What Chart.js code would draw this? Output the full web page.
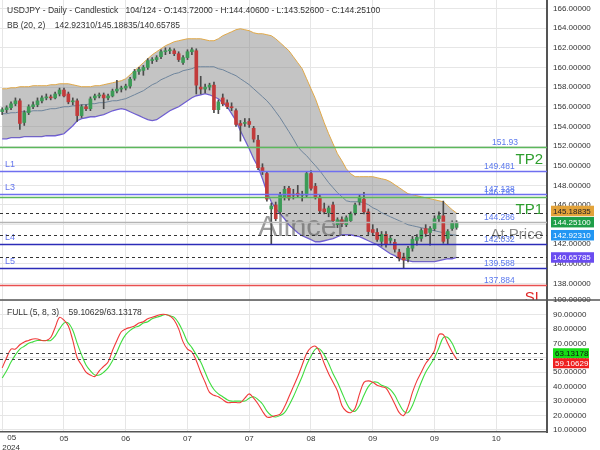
<!DOCTYPE html>
<html>
<head>
<meta charset="utf-8">
<script src="https://cdn.jsdelivr.net/npm/chart.js@4.4.1/dist/chart.umd.min.js"></script>
<style>
  html, body { margin: 0; padding: 0; background: #fff; width: 600px; height: 450px; overflow: hidden; }
  #wrap { position: relative; width: 600px; height: 450px; }
  canvas { position: absolute; left: 0; }
  #c1 { top: 0; z-index: 1; }
  #c2 { top: 290px; z-index: 2; }
  .hdr { position: absolute; z-index: 5; font-family: 'Liberation Sans', Arial, sans-serif; font-size: 8.5px; color: #333; white-space: pre; line-height: 10px; }
</style>
</head>
<body>
<div id="wrap">
  <canvas id="c1" width="600" height="300"></canvas>
  <canvas id="c2" width="600" height="160"></canvas>
  <div class="hdr" style="left:7px; top:5px;">USDJPY - Daily - Candlestick   104/124 - O:143.72000 - H:144.40600 - L:143.52600 - C:144.25100</div>
  <div class="hdr" style="left:7px; top:20px;">BB (20, 2)    142.92310/145.18835/140.65785</div>
  <div class="hdr" style="left:7px; top:307px;">FULL (5, 8, 3)    59.10629/63.13178</div>
</div>
<script>
// ---------------- DATA ----------------
const slotCount = 124;
const xTickIndex = [0, 14, 28, 42, 56, 70, 84, 98, 112];
const xTickLabels = ['05', '05', '06', '07', '07', '08', '09', '09', '10'];
const xYearLabel = '2024';

const open = [155.5,155.7,155.9,156.3,156.6,154.4,155.4,156.0,156.2,156.6,156.9,157.0,156.9,157.3,157.7,157.3,156.5,156.6,155.1,156.0,
155.8,156.9,157.1,157.2,156.9,157.1,157.6,157.8,157.9,158.1,158.9,159.6,159.7,160.0,160.7,160.8,161.1,161.6,161.7,161.7,
161.4,160.5,161.0,161.6,161.7,158.0,157.8,158.0,158.2,155.7,156.9,156.4,156.0,155.6,154.3,154.3,154.5,153.8,152.6,149.8,
149.2,145.6,146.0,145.3,146.8,147.7,147.1,147.2,147.0,147.0,149.2,147.9,146.8,145.6,145.2,146.0,144.0,144.5,144.0,144.4,
145.2,146.3,146.6,145.3,143.5,143.2,142.3,143.0,142.4,142.2,141.2,140.7,140.5,141.6,142.4,142.6,143.6,143.2,143.6,144.6,
144.9,142.6,143.6,143.72];
const high = [155.9,156.1,156.5,156.9,156.8,155.6,156.2,156.5,156.9,157.1,157.3,157.2,157.5,157.9,157.9,157.5,156.9,156.8,156.2,156.2,
157.0,157.3,157.4,157.4,157.3,157.8,158.7,158.1,158.3,159.0,159.8,160.0,160.2,160.9,161.0,161.2,161.8,162.0,162.0,161.9,
161.6,161.2,161.8,162.0,161.9,159.1,158.3,158.4,158.5,156.7,157.3,156.7,156.4,155.8,154.6,154.8,154.8,154.0,153.1,150.2,
149.4,146.2,146.3,147.3,147.9,147.9,147.6,148.0,147.4,149.4,149.5,148.2,147.0,146.2,145.9,146.3,144.7,144.8,144.9,145.3,
146.2,147.0,147.3,145.6,144.0,143.6,143.3,143.3,142.9,142.5,141.5,141.1,141.8,142.8,143.0,143.6,144.0,143.8,144.9,145.3,
146.4,143.5,144.4,144.406];
const low = [155.2,155.4,155.7,156.1,153.7,154.1,155.2,155.8,156.0,156.4,156.7,156.7,156.8,157.1,157.0,156.3,156.2,154.5,154.9,155.6,
155.6,156.7,156.9,155.8,156.7,157.0,157.4,157.5,157.7,157.9,158.7,159.3,159.2,159.8,160.4,160.6,160.9,161.3,161.4,161.2,
160.6,160.3,160.8,161.3,157.3,157.3,157.4,157.7,155.4,155.3,156.1,155.8,155.6,154.0,152.5,154.0,153.9,152.4,149.6,149.1,
146.4,142.0,144.4,145.1,146.5,146.5,146.6,146.8,146.4,146.8,147.5,146.6,145.2,145.1,144.8,144.2,143.7,143.8,143.8,144.2,
145.0,146.0,145.1,143.0,142.9,142.3,141.8,141.7,142.1,141.2,140.3,139.6,140.2,141.3,141.9,142.3,142.8,141.9,143.4,144.3,
142.1,142.0,143.4,143.526];
const close = [155.7,155.9,156.3,156.6,154.3,155.4,156.0,156.2,156.6,156.9,157.0,156.9,157.3,157.7,157.1,156.5,156.6,155.1,156.0,155.8,
156.8,157.1,157.2,156.9,157.1,157.6,157.8,157.9,158.1,158.8,159.6,159.8,160.0,160.7,160.8,161.0,161.6,161.7,161.8,161.4,
160.8,161.0,161.6,161.8,158.2,157.8,158.0,158.2,155.7,156.5,156.3,156.0,155.9,154.2,154.1,154.4,154.2,152.7,149.8,149.4,
146.6,145.9,144.6,147.0,147.6,146.7,147.0,147.0,147.1,149.2,147.7,146.8,145.4,145.3,145.7,144.4,144.5,144.1,144.7,145.1,
146.0,146.8,145.3,143.3,143.2,142.5,143.0,142.0,142.6,141.5,140.6,140.4,141.6,142.5,142.7,143.4,143.1,143.6,144.6,144.9,
142.3,143.3,144.2,144.251];

const bbUpper = [157.83,157.83,157.93,157.93,158.04,158.04,158.04,158.14,158.14,158.14,158.14,158.24,158.24,158.34,158.34,158.34,158.24,158.14,158.04,158.04,
158.04,158.14,158.14,158.24,158.34,158.44,158.55,158.65,158.85,159.26,159.67,160.07,160.48,160.89,161.29,161.60,161.90,162.21,162.41,162.62,
162.72,162.82,162.92,162.92,162.92,162.92,162.82,162.72,162.72,162.92,163.23,163.43,163.63,163.84,163.94,163.84,163.74,163.53,163.43,163.43,
163.33,163.23,162.92,162.52,162.11,161.70,161.09,160.48,159.87,158.85,157.83,156.82,155.59,154.37,153.25,152.24,151.22,150.50,149.69,149.18,
148.88,148.88,148.88,148.88,148.88,148.77,148.67,148.57,148.37,148.06,147.76,147.45,147.15,147.05,146.94,146.84,146.74,146.64,146.54,146.43,
146.33,145.93,145.52,145.18835];
const bbMid = [155.29,155.29,155.39,155.39,155.49,155.49,155.49,155.59,155.59,155.59,155.70,155.80,155.80,155.90,156.00,156.00,156.10,156.10,156.21,156.21,
156.31,156.31,156.41,156.41,156.51,156.61,156.61,156.72,156.82,157.02,157.22,157.43,157.63,157.94,158.24,158.44,158.75,158.95,159.16,159.36,
159.46,159.67,159.77,159.87,160.07,160.07,160.07,160.07,160.07,159.87,159.77,159.56,159.36,159.16,158.85,158.55,158.24,157.83,157.43,157.02,
156.61,156.10,155.49,154.88,154.17,153.46,152.74,151.93,151.42,151.02,150.50,150.00,149.49,148.88,148.27,147.76,147.25,146.84,146.43,146.33,
146.33,146.33,146.23,146.03,145.72,145.52,145.21,145.01,144.80,144.60,144.40,144.20,143.99,143.89,143.79,143.69,143.59,143.48,143.38,143.28,
143.18,143.08,142.97,142.9231];
const bbLower = [152.74,152.74,152.85,152.85,152.85,152.95,152.95,152.95,152.95,152.95,153.05,153.05,153.05,153.15,153.25,153.66,154.07,154.58,154.78,154.88,
154.98,154.98,155.09,155.19,155.39,155.59,155.70,155.80,155.70,155.49,155.29,155.09,154.88,154.68,154.58,154.68,154.98,155.29,155.59,155.80,
156.00,156.31,156.61,156.92,157.12,157.22,157.33,157.22,157.02,156.82,156.41,156.00,155.29,154.58,153.56,152.64,151.73,150.71,149.90,148.67,
147.35,146.33,145.62,145.11,144.60,143.99,143.59,143.18,142.87,142.67,142.47,142.26,142.26,142.36,142.47,142.57,142.77,142.97,142.97,142.97,
142.87,142.77,142.57,142.36,142.16,141.96,141.65,141.35,141.04,140.84,140.53,140.43,140.33,140.23,140.23,140.23,140.23,140.23,140.23,140.33,
140.43,140.53,140.53,140.65785];

const stochK = [53,60,66,66,69,71,72,73,73,72,72,74,81,88,86,82,72,60,55,50,
48,47,51,54,57,65,72,78,80,81,82,84,85,87,88,89,90,90,89,86,
80,71,66,64,58,50,43,36,34,33,31,29,29,29,29,32,35,32,28,23,
19,19,20,21,26,33,40,47,55,63,67,68,64,56,49,43,37,27,23,22,
25,35,43,44,43,41,40,39,34,28,22,20,26,36,44,50,56,60,65,76,
76,70,64,59.10629];
const stochD = [46,51,57,62,66,68,70,71,72,72,72,72,75,80,84,84,79,70,62,55,
51,48,48,50,53,58,64,71,76,79,81,82,84,85,87,88,89,90,89,88,
84,78,71,67,62,57,50,43,38,35,33,31,30,30,30,30,32,33,31,28,
23,20,19,20,22,27,33,40,47,55,61,66,66,62,56,49,43,36,29,24,
23,27,34,40,43,43,41,40,38,34,28,23,22,27,35,43,50,55,60,67,
74,74,70,63.13178];

const levelValues = [151.93, 149.481, 147.138, 146.793, 144.286, 142.032, 139.588, 137.884];
const levelTexts  = ['151.93', '149.481', '147.138', '146.793', '144.286', '142.032', '139.588', '137.884'];
const levelNames  = ['TP2', 'L1', 'L3', 'TP1', 'At Price', 'L4', 'L5', 'SL'];

// ---------------- STYLE ----------------
const FONT = "'Liberation Sans', Arial, sans-serif";
const GRID = '#e6e6e6';
const levelStyle = {
  'TP2': { line: '#5cb85c', name: '#2e9e2e', side: 'right' },
  'TP1': { line: '#5cb85c', name: '#2e9e2e', side: 'right' },
  'At Price': { line: '#b4b4b4', name: '#8a8a8a', side: 'right' },
  'SL': { line: '#e85050', name: '#e02828', side: 'right' },
  'L1': { line: '#6f6ff0', name: '#6677ee', side: 'left' },
  'L3': { line: '#6f6ff0', name: '#6677ee', side: 'left' },
  'L4': { line: '#2c2cb8', name: '#6677ee', side: 'left' },
  'L5': { line: '#2c2cb8', name: '#6677ee', side: 'left' }
};

const labels = Array.from({ length: slotCount }, (_, i) => String(i));
const bodyColors = open.map((o, i) => close[i] >= o ? '#3d9b57' : '#c23b3b');

const gridColorX = (ctx) => xTickIndex.includes(ctx.index) ? GRID : 'rgba(0,0,0,0)';
const noPad = (s) => { s.paddingTop = 0; s.paddingBottom = 0; s.paddingLeft = 0; s.paddingRight = 0; };

function hline(ctx, x1, x2, y) {
  ctx.beginPath(); ctx.moveTo(x1, y); ctx.lineTo(x2, y); ctx.stroke();
}

function drawBoxes(ctx, items, x, w, h) {
  let prevBottom = -Infinity;
  items.forEach(it => {
    let top = it.y - h / 2;
    if (top < prevBottom) top = prevBottom;
    ctx.fillStyle = it.bg;
    ctx.fillRect(x, top, w, h);
    ctx.fillStyle = it.fg;
    ctx.font = '8px ' + FONT;
    ctx.textAlign = 'left';
    ctx.textBaseline = 'middle';
    ctx.fillText(it.text, x + 2, top + h / 2 + 0.5);
    prevBottom = top + h;
  });
}

// ---------------- MAIN PANEL ----------------
const mainPlugin = {
  id: 'mainLevels',
  afterDatasetsDraw(chart) {
    const { ctx, chartArea: ca, scales: { y } } = chart;
    ctx.save();
    ctx.beginPath(); ctx.rect(ca.left, ca.top, ca.right - ca.left, ca.bottom - ca.top); ctx.clip();

    // watermark
    ctx.font = '29px ' + FONT;
    ctx.fillStyle = 'rgba(95,95,95,0.62)';
    ctx.textAlign = 'left'; ctx.textBaseline = 'alphabetic';
    ctx.fillText('Alincer', 258, 236);

    // level lines and labels
    levelValues.forEach((v, k) => {
      const name = levelNames[k];
      const st = levelStyle[name];
      const py = Math.round(y.getPixelForValue(v)) + 0.5;
      ctx.strokeStyle = st.line; ctx.lineWidth = 1.3; ctx.setLineDash([]);
      hline(ctx, ca.left, ca.right, py);
      ctx.font = '8.5px ' + FONT;
      ctx.fillStyle = '#5a78ee';
      ctx.textAlign = 'left'; ctx.textBaseline = 'alphabetic';
      ctx.fillText(levelTexts[k], k === 0 ? 492 : 484, py - 3);
      if (st.side === 'left') {
        ctx.font = '9px ' + FONT;
        ctx.fillStyle = st.name;
        ctx.fillText(name, 5, py - 5);
      } else {
        ctx.font = '15px ' + FONT;
        ctx.fillStyle = st.name;
        ctx.textAlign = 'right';
        ctx.fillText(name, 543, py + 16);
      }
    });

    // dashed Bollinger current value lines
    ctx.setLineDash([3, 3]); ctx.strokeStyle = '#333'; ctx.lineWidth = 1;
    [bbUpper[bbUpper.length - 1], bbMid[bbMid.length - 1], bbLower[bbLower.length - 1]].forEach(v => {
      hline(ctx, ca.left, ca.right, Math.round(y.getPixelForValue(v)) + 0.5);
    });
    ctx.restore();
  },
  afterDraw(chart) {
    const { ctx, scales: { y } } = chart;
    ctx.save();
    const last = close.length - 1;
    drawBoxes(ctx, [
      { y: y.getPixelForValue(bbUpper[last]) - 2, bg: '#e3a33a', fg: '#222', text: bbUpper[last].toFixed(5) },
      { y: y.getPixelForValue(close[last]), bg: '#1e9e48', fg: '#fff', text: close[last].toFixed(5) },
      { y: y.getPixelForValue(bbMid[last]), bg: '#2196f3', fg: '#fff', text: bbMid[last].toFixed(5) },
      { y: y.getPixelForValue(bbLower[last]), bg: '#6a4cf0', fg: '#fff', text: bbLower[last].toFixed(5) }
    ], 551, 43, 10.5);
    ctx.restore();
  }
};

new Chart(document.getElementById('c1'), {
  type: 'bar',
  data: {
    labels: labels,
    datasets: [
      { type: 'line', label: 'BB upper', data: bbUpper, borderColor: '#e0a848', borderWidth: 1, pointRadius: 0,
        fill: { target: 2 }, backgroundColor: 'rgba(130,130,130,0.47)', order: 3 },
      { type: 'line', label: 'BB mid', data: bbMid, borderColor: '#5d87b3', borderWidth: 1, pointRadius: 0, fill: false, order: 3 },
      { type: 'line', label: 'BB lower', data: bbLower, borderColor: '#6a55e8', borderWidth: 1.3, pointRadius: 0, fill: false, order: 3 },
      { type: 'bar', label: 'wick', data: low.map((l, i) => [l, high[i]]), backgroundColor: '#4a4a4a',
        barThickness: 1, grouped: false, order: 2 },
      { type: 'bar', label: 'body', data: open.map((o, i) => [o, close[i]]), backgroundColor: bodyColors,
        barThickness: 3, grouped: false, minBarLength: 1, order: 1 }
    ]
  },
  options: {
    responsive: false, animation: false, maintainAspectRatio: false,
    layout: { padding: 0 },
    plugins: { legend: { display: false }, tooltip: { enabled: false } },
    scales: {
      x: {
        type: 'category', offset: true,
        grid: { offset: false, color: gridColorX, drawTicks: false },
        border: { display: false },
        ticks: { display: false, autoSkip: false },
        afterFit: (s) => { s.height = 0; noPad(s); }
      },
      y: {
        position: 'right', min: 136.33, max: 166.865,
        ticks: { stepSize: 2, includeBounds: false, callback: (v) => Number(v).toFixed(5),
                 font: { size: 8, family: FONT }, color: '#333', padding: 6 },
        grid: { color: GRID, drawTicks: false },
        border: { display: true, color: '#555', width: 2 },
        afterFit: (s) => { s.width = 53; noPad(s); }
      }
    }
  },
  plugins: [mainPlugin]
});

// ---------------- STOCHASTIC PANEL ----------------
const stochPlugin = {
  id: 'stochExtras',
  afterDatasetsDraw(chart) {
    const { ctx, chartArea: ca, scales: { y } } = chart;
    ctx.save();
    ctx.setLineDash([3, 3]); ctx.strokeStyle = '#444'; ctx.lineWidth = 1;
    [stochD[stochD.length - 1], stochK[stochK.length - 1]].forEach(v => {
      hline(ctx, ca.left, ca.right, Math.round(y.getPixelForValue(v)) + 0.5);
    });
    ctx.restore();
  },
  afterDraw(chart) {
    const { ctx, chartArea: ca, scales: { x, y } } = chart;
    ctx.save();
    ctx.strokeStyle = '#555'; ctx.lineWidth = 1.5;
    hline(ctx, 0, chart.width, ca.top);
    // first date label (kept inside the canvas)
    ctx.fillStyle = '#333'; ctx.font = '8px ' + FONT; ctx.textAlign = 'left'; ctx.textBaseline = 'middle';
    ctx.fillText(xTickLabels[0], x.getPixelForValue(xTickIndex[0]) + 5, ca.bottom + 6);
    ctx.fillText(xYearLabel, x.getPixelForValue(xTickIndex[0]), ca.bottom + 16);
    const lastK = stochK[stochK.length - 1], lastD = stochD[stochD.length - 1];
    drawBoxes(ctx, [
      { y: y.getPixelForValue(lastD), bg: '#16dd16', fg: '#111', text: lastD.toFixed(5) },
      { y: y.getPixelForValue(lastK), bg: '#ee1f1f', fg: '#fff', text: lastK.toFixed(5) }
    ], 553, 36, 10);
    ctx.restore();
  }
};

new Chart(document.getElementById('c2'), {
  type: 'line',
  data: {
    labels: labels,
    datasets: [
      { label: '%K', data: stochK, borderColor: '#f03a3a', borderWidth: 1.1, pointRadius: 0, tension: 0.35, fill: false, order: 0 },
      { label: '%D', data: stochD, borderColor: '#3fdc3f', borderWidth: 1.1, pointRadius: 0, tension: 0.35, fill: false, order: 1 }
    ]
  },
  options: {
    responsive: false, animation: false, maintainAspectRatio: false,
    layout: { padding: { top: 10, left: 0, right: 0, bottom: 0 } },
    plugins: { legend: { display: false }, tooltip: { enabled: false } },
    scales: {
      x: {
        type: 'category', offset: true,
        grid: { offset: false, color: gridColorX, drawTicks: false },
        border: { display: true, color: '#555', width: 1.5 },
        ticks: {
          autoSkip: false, maxRotation: 0, minRotation: 0, padding: 2,
          font: { size: 8, family: FONT }, color: '#333',
          callback: (v, i) => { const k = xTickIndex.indexOf(i); return k > 0 ? xTickLabels[k] : ''; }
        },
        afterFit: (s) => { s.height = 18; noPad(s); }
      },
      y: {
        position: 'right', min: 8.6, max: 100,
        ticks: { stepSize: 10, includeBounds: false, callback: (v) => Number(v).toFixed(5),
                 font: { size: 8, family: FONT }, color: '#333', padding: 6 },
        grid: { color: GRID, drawTicks: false },
        border: { display: true, color: '#555', width: 2 },
        afterFit: (s) => { s.width = 53; noPad(s); }
      }
    }
  },
  plugins: [stochPlugin]
});
</script>
</body>
</html>
